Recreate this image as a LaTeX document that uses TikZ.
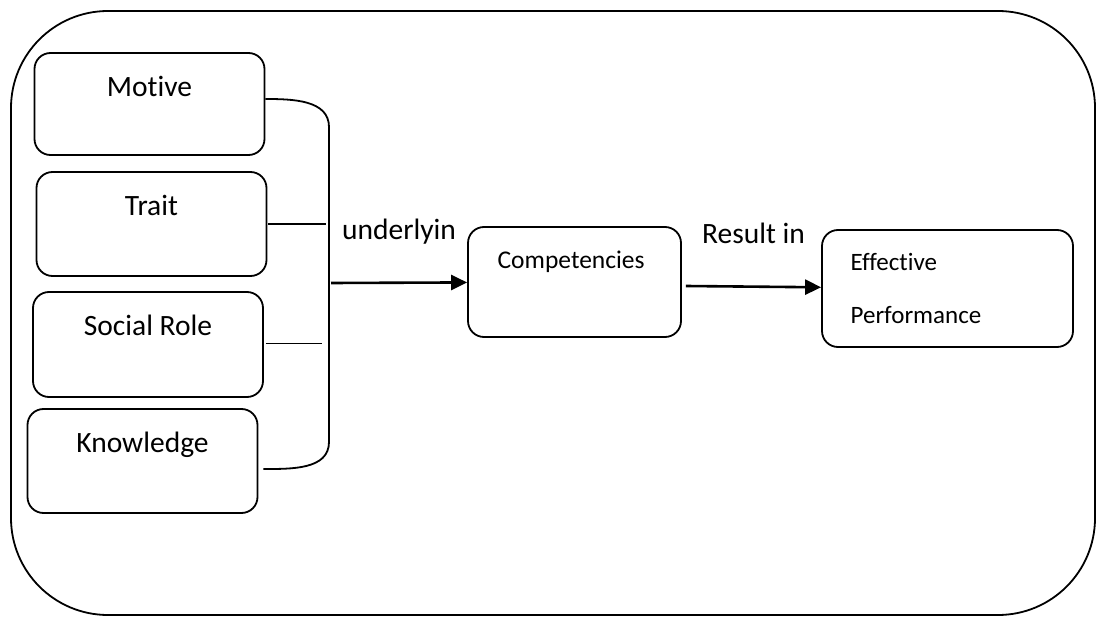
\documentclass[tikz,border=0pt]{standalone}
\usepackage{fontspec}
\setmainfont{Carlito}[Ligatures=NoCommon]
\usetikzlibrary{positioning,arrows.meta}

\begin{document}
\begin{tikzpicture}[x=1pt, y=-1pt, node distance=120pt, on grid,
		block/.style={draw, line width=1.8pt, rounded corners=16pt, minimum width=230pt, minimum height=104pt},
		blocktext/.style={anchor=base, font=\fontsize{29.5}{35}\selectfont},
		link/.style={line width=1.8pt},
		flow/.style={line width=2.6pt, -{Triangle[length=16pt,width=15pt]}},
		tag/.style={anchor=base, yshift=43pt, font=\fontsize{29.5}{35}\selectfont}]
				\useasboundingbox (0,0) rectangle (1097,617);
				\draw[line width=1.8pt, rounded corners=97pt] (11,11) rectangle (1095,615);
				
				\node[block, minimum height=102pt] (motive) at (149.5,104) {};
				\node[block] (trait) [below=of motive, xshift=2pt] {};
				\node[block, minimum height=105pt] (social) [below=of trait, xshift=-3.5pt, yshift=-0.5pt] {};
				\node[block] (knowledge) [below=of social, xshift=-5.5pt, yshift=3.5pt] {};
				\node[block, minimum width=213pt, minimum height=110pt] (comp) at (574.5,282) {};
				\node[block, minimum width=251pt, minimum height=117pt] (eff) at (947.5,288.5) {};
				
				\node[blocktext] (motive_t) at ([yshift=-44pt]motive.north) {Motive};
				\node[blocktext] (trait_t) at ([yshift=-44pt]trait.north) {Trait};
				\node[blocktext] (social_t) at ([yshift=-44pt]social.north) {Social Role};
				\node[blocktext] (knowledge_t) at ([yshift=-44pt]knowledge.north) {Knowledge};
				\node[anchor=base west, font=\fontsize{25.5}{30}\selectfont] (comp_t) at ([xshift=27pt, yshift=-42pt]comp.north west) {Competencies};
				\node[anchor=base west, font=\fontsize{25}{53}\selectfont] (eff_t1) at ([xshift=26pt, yshift=-41pt]eff.north west) {Effective};
				\node[anchor=base west, font=\fontsize{25}{53}\selectfont] (eff_t2) at ([yshift=-53pt]eff_t1.base west) {Performance};
				
				\coordinate (spinetop) at (329,127);
				\coordinate (spinebot) at (329,442);
				\coordinate (spinemid) at (331,283);
				
				\draw[link] ([yshift=5pt]motive.east) to[out=0, in=90] (spinetop) -- (spinebot)
					to[out=-90, in=0] ([xshift=5pt, yshift=-8pt]knowledge.east);
				\draw[link, shorten >=3pt, shorten <=1pt] (trait.east) -- (trait.east -| spinetop);
				\draw[link, shorten >=7pt, shorten <=2pt] ([yshift=1pt]social.east) -- ([yshift=1pt]social.east -| spinetop);
				
				\path[flow]
				(spinemid) edge node[tag] {underlyin} (comp)
				([xshift=4pt, yshift=-4pt]comp.east) edge node[tag] {Result in} (eff)
				;
			\end{tikzpicture}
\end{document}
